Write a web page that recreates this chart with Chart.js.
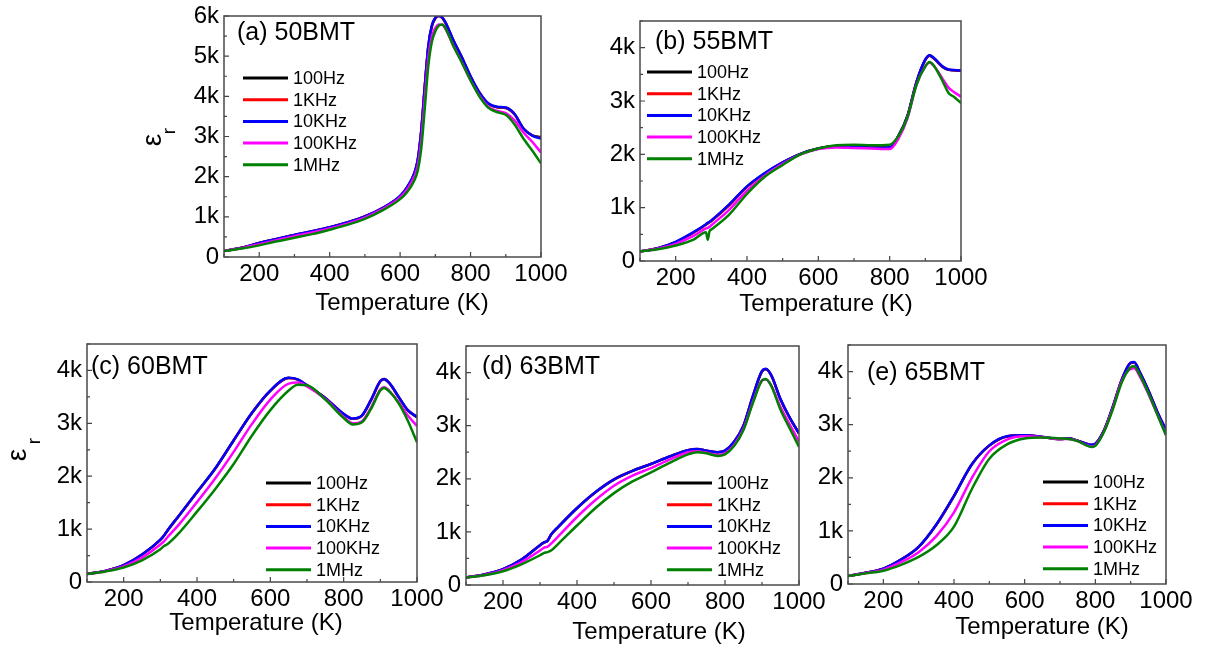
<!DOCTYPE html>
<html>
<head>
<meta charset="utf-8">
<script src="https://cdn.jsdelivr.net/npm/chart.js@4.4.1/dist/chart.umd.min.js"></script>
<style>
  html, body { margin: 0; padding: 0; background: #fff; width: 1205px; height: 647px; overflow: hidden; position: relative; }
  .panel { position: absolute; }
</style>
</head>
<body>
<script>
const freqLabels = ['100Hz', '1KHz', '10KHz', '100KHz', '1MHz'];
const lineColors = ['#000000', '#ff0000', '#0000ff', '#ff00ff', '#008000'];

// (a) 50BMT
const tempA = [100,150,200,250,300,350,400,450,500,550,600,620,640,650,660,670,680,690,700,710,720,730,750,775,800,825,850,875,900,925,950,975,1000];
const a_100Hz  = [150,228,348,448,548,638,738,858,1008,1218,1515,1735,2070,2400,3130,4230,5230,5740,5940,6000,5950,5810,5410,4970,4490,4090,3820,3730,3710,3550,3200,3030,2980];
const a_1KHz   = [150,229,349,449,549,639,739,859,1009,1219,1518,1738,2075,2410,3140,4240,5240,5750,5950,6005,5955,5815,5415,4975,4495,4095,3825,3735,3715,3555,3200,3025,2960];
const a_10KHz  = [150,230,350,450,550,640,740,860,1010,1220,1520,1740,2080,2420,3150,4250,5250,5760,5960,6010,5960,5820,5420,4980,4500,4100,3830,3740,3720,3560,3200,3020,2950];
const a_100KHz = [150,220,320,420,520,610,710,830,980,1190,1480,1680,1990,2280,2900,3950,4950,5480,5700,5790,5780,5660,5280,4850,4400,4020,3740,3640,3580,3400,3100,2870,2600];
const a_1MHz   = [150,210,290,390,480,570,680,800,950,1160,1440,1620,1900,2150,2700,3700,4750,5350,5620,5760,5790,5680,5280,4850,4400,4000,3720,3610,3540,3300,2950,2650,2330];

// (b) 55BMT
const tempB = [100,150,200,250,285,290,295,300,350,400,450,500,550,600,650,700,750,800,825,850,875,900,912,925,950,965,980,1000];
const b_100Hz  = [180,240,355,535,685,710,730,755,1050,1395,1645,1850,2010,2110,2150,2140,2130,2130,2350,2720,3350,3770,3850,3790,3630,3585,3575,3565];
const b_1KHz   = [180,238,352,530,680,705,725,750,1045,1390,1640,1845,2005,2108,2150,2140,2130,2130,2350,2720,3350,3775,3855,3795,3635,3588,3578,3568];
const b_10KHz  = [180,240,360,540,690,715,735,760,1060,1400,1650,1850,2010,2110,2150,2140,2130,2130,2350,2720,3350,3780,3860,3800,3640,3590,3580,3570];
const b_100KHz = [180,230,320,470,610,620,640,670,960,1320,1600,1820,2000,2100,2130,2120,2110,2100,2300,2680,3300,3650,3720,3650,3400,3250,3170,3080];
const b_1MHz   = [180,220,290,400,540,400,560,590,870,1260,1580,1800,2000,2110,2170,2180,2170,2180,2350,2700,3300,3650,3730,3650,3350,3150,3080,2960];

// (c) 60BMT
const tempC = [100,150,200,250,300,310,320,350,400,450,500,550,600,650,675,700,750,800,825,850,875,900,910,925,950,975,1000];
const c_100Hz  = [150,210,318,515,795,875,975,1245,1695,2145,2675,3195,3615,3855,3825,3715,3475,3175,3085,3145,3445,3795,3835,3755,3495,3245,3115];
const c_1KHz   = [150,210,319,518,798,878,978,1248,1698,2148,2678,3198,3618,3858,3828,3718,3478,3178,3088,3148,3448,3798,3838,3758,3498,3248,3118];
const c_10KHz  = [150,210,320,520,800,880,980,1250,1700,2150,2680,3200,3620,3860,3830,3720,3480,3180,3090,3150,3450,3800,3840,3760,3500,3250,3120];
const c_100KHz = [150,205,295,460,710,770,850,1080,1510,1960,2460,2990,3450,3750,3770,3700,3460,3120,3000,3040,3300,3640,3680,3610,3400,3150,2950];
const c_1MHz   = [150,200,275,410,620,680,720,920,1330,1760,2230,2770,3250,3620,3730,3720,3450,3100,2980,3020,3280,3620,3670,3600,3380,3050,2640];

// (d) 63BMT
const tempD = [100,150,200,250,300,310,320,330,350,400,450,500,550,600,650,700,725,750,780,800,825,850,875,900,910,925,950,975,1000];
const d_100Hz  = [140,200,298,478,748,798,828,948,1098,1445,1745,1985,2148,2278,2418,2538,2558,2528,2498,2528,2698,2998,3545,4020,4060,3945,3495,3145,2860];
const d_1KHz   = [140,200,299,479,749,799,829,949,1099,1448,1748,1988,2149,2279,2419,2539,2559,2529,2499,2529,2699,2999,3548,4025,4065,3948,3498,3148,2855];
const d_10KHz  = [140,200,300,480,750,800,830,950,1100,1450,1750,1990,2150,2280,2420,2540,2560,2530,2500,2530,2700,3000,3550,4030,4070,3950,3500,3150,2850];
const d_100KHz = [140,190,280,430,650,700,720,780,920,1280,1600,1870,2060,2200,2360,2500,2520,2490,2450,2480,2640,2940,3440,3850,3870,3760,3350,3020,2700];
const d_1MHz   = [140,185,260,390,560,600,620,650,780,1120,1450,1730,1950,2120,2300,2460,2500,2480,2430,2460,2620,2920,3420,3850,3880,3750,3300,2950,2600];

// (e) 65BMT
const tempE = [100,150,200,250,300,350,400,450,500,550,600,650,700,725,750,790,800,825,850,875,900,910,925,950,975,1000];
const e_100Hz  = [150,210,288,458,698,1115,1655,2245,2605,2778,2798,2768,2728,2738,2698,2618,2638,2898,3345,3845,4160,4170,3995,3645,3245,2890];
const e_1KHz   = [150,210,289,459,699,1118,1658,2248,2608,2779,2799,2769,2729,2739,2699,2619,2639,2899,3348,3848,4165,4175,3998,3648,3248,2895];
const e_10KHz  = [150,210,290,460,700,1120,1660,2250,2610,2780,2800,2770,2730,2740,2700,2620,2640,2900,3350,3850,4170,4180,4000,3650,3250,2900];
const e_100KHz = [150,205,270,410,600,900,1350,1990,2500,2720,2780,2765,2730,2730,2690,2590,2610,2880,3320,3820,4050,4060,3920,3580,3200,2820];
const e_1MHz   = [150,200,250,360,510,730,1080,1780,2360,2630,2740,2760,2740,2730,2690,2580,2600,2870,3300,3800,4080,4100,3950,3600,3200,2800];

// layout of each panel on the page (page pixels)
const panels = [
  { name: '(a) 50BMT', temps: tempA, series: [a_100Hz, a_1KHz, a_10KHz, a_100KHz, a_1MHz], yMax: 6000,
    box: { l: 224, r: 541, t: 16, b: 257 }, yw: 94, label: [237, 33], legend: [243, 78], xTitle: [402, 303],
    eps: [153, 140], epsR: [170, 131] },
  { name: '(b) 55BMT', temps: tempB, series: [b_100Hz, b_1KHz, b_10KHz, b_100KHz, b_1MHz], yMax: 4500,
    box: { l: 640, r: 961, t: 21, b: 261 }, yw: 60, label: [655, 42], legend: [647, 72], xTitle: [826, 304] },
  { name: '(c) 60BMT', temps: tempC, series: [c_100Hz, c_1KHz, c_10KHz, c_100KHz, c_1MHz], yMax: 4500,
    box: { l: 87, r: 417, t: 344, b: 582 }, yw: 87, label: [91, 367], legend: [266, 483], xTitle: [256, 623],
    eps: [18, 455], epsR: [35, 441] },
  { name: '(d) 63BMT', temps: tempD, series: [d_100Hz, d_1KHz, d_10KHz, d_100KHz, d_1MHz], yMax: 4500,
    box: { l: 466, r: 799, t: 346, b: 585 }, yw: 60, label: [482, 367], legend: [667, 483], xTitle: [659, 632] },
  { name: '(e) 65BMT', temps: tempE, series: [e_100Hz, e_1KHz, e_10KHz, e_100KHz, e_1MHz], yMax: 4500,
    box: { l: 848, r: 1166, t: 345, b: 584 }, yw: 60, label: [867, 373], legend: [1043, 482], xTitle: [1042, 627] }
];

const FONT = '"Liberation Sans", Arial, sans-serif';
const PAD_TOP = 25, PAD_RIGHT = 40, X_AXIS_H = 70;

function decorPlugin(p, ox, oy) {
  return {
    id: 'decor',
    afterDraw(chart) {
      const { ctx, chartArea: ca, scales: { x, y } } = chart;
      ctx.save();
      // inward tick marks
      ctx.strokeStyle = '#444';
      ctx.lineWidth = 1.2;
      ctx.beginPath();
      x.ticks.forEach(t => {
        const px = x.getPixelForValue(t.value);
        const len = t.value % 200 === 0 ? 5 : 3;
        ctx.moveTo(px, ca.bottom);
        ctx.lineTo(px, ca.bottom - len);
      });
      y.ticks.forEach(t => {
        const py = y.getPixelForValue(t.value);
        const len = t.value % 1000 === 0 ? 5 : 3;
        ctx.moveTo(ca.left, py);
        ctx.lineTo(ca.left + len, py);
      });
      ctx.stroke();
      // frame
      ctx.strokeStyle = '#4a4a4a';
      ctx.lineWidth = 1.5;
      ctx.strokeRect(ca.left, ca.top, ca.right - ca.left, ca.bottom - ca.top);

      ctx.fillStyle = '#000';
      // panel name
      ctx.font = '25px ' + FONT;
      ctx.textAlign = 'left';
      ctx.textBaseline = 'middle';
      ctx.fillText(p.name, p.label[0] - ox, p.label[1] - oy);
      // x title
      ctx.font = '24px ' + FONT;
      ctx.textAlign = 'center';
      ctx.fillText('Temperature (K)', p.xTitle[0] - ox, p.xTitle[1] - oy);
      // y title (epsilon r, rotated)
      if (p.eps) {
        ctx.save();
        ctx.translate(p.eps[0] - ox, p.eps[1] - oy);
        ctx.rotate(-Math.PI / 2);
        ctx.font = '28px ' + FONT;
        ctx.fillText('ε', 0, 0);
        ctx.restore();
        ctx.save();
        ctx.translate(p.epsR[0] - ox, p.epsR[1] - oy);
        ctx.rotate(-Math.PI / 2);
        ctx.font = '19px ' + FONT;
        ctx.fillText('r', 0, 0);
        ctx.restore();
      }
      // legend
      chart.data.datasets.forEach((ds, i) => {
        const lx = p.legend[0] - ox;
        const ly = p.legend[1] - oy + i * 21.7;
        ctx.strokeStyle = ds.borderColor;
        ctx.lineWidth = 3;
        ctx.beginPath();
        ctx.moveTo(lx, ly);
        ctx.lineTo(lx + 45, ly);
        ctx.stroke();
        ctx.font = '18px ' + FONT;
        ctx.textAlign = 'left';
        ctx.fillText(ds.label, lx + 50, ly + 1);
      });
      ctx.restore();
    }
  };
}

panels.forEach(p => {
  const cl = p.box.l - p.yw;
  const ct = p.box.t - PAD_TOP;
  const w = p.box.r - cl + PAD_RIGHT;
  const h = p.box.b - ct + X_AXIS_H;

  const div = document.createElement('div');
  div.className = 'panel';
  div.style.left = cl + 'px';
  div.style.top = ct + 'px';
  div.style.width = w + 'px';
  div.style.height = h + 'px';
  const cv = document.createElement('canvas');
  cv.width = w;
  cv.height = h;
  div.appendChild(cv);
  document.body.appendChild(div);

  new Chart(cv, {
    type: 'line',
    data: {
      datasets: p.series.map((vals, i) => ({
        label: freqLabels[i],
        data: vals.map((v, k) => ({ x: p.temps[k], y: v })),
        borderColor: lineColors[i],
        backgroundColor: lineColors[i],
        borderWidth: 2.5,
        pointRadius: 0,
        cubicInterpolationMode: 'monotone',
        order: freqLabels.length - i
      }))
    },
    options: {
      responsive: false,
      animation: false,
      devicePixelRatio: 1,
      layout: { padding: { left: 0, top: PAD_TOP, right: PAD_RIGHT, bottom: 0 } },
      plugins: { legend: { display: false }, tooltip: { enabled: false } },
      scales: {
        x: {
          type: 'linear', min: 100, max: 1000,
          grid: { display: false, drawTicks: false },
          border: { display: false },
          ticks: {
            stepSize: 100, autoSkip: false, maxRotation: 0, padding: 3,
            color: '#000', font: { family: FONT, size: 24 },
            callback: v => (v % 200 === 0 ? String(v) : '')
          },
          afterFit: s => { s.height = X_AXIS_H; }
        },
        y: {
          type: 'linear', min: 0, max: p.yMax,
          grid: { display: false, drawTicks: false },
          border: { display: false },
          ticks: {
            stepSize: 500, autoSkip: false, padding: 5,
            color: '#000', font: { family: FONT, size: 24 },
            callback: v => (v === 0 ? '0' : (v % 1000 === 0 ? (v / 1000) + 'k' : ''))
          },
          afterFit: s => { s.width = p.yw; }
        }
      }
    },
    plugins: [decorPlugin(p, cl, ct)]
  });
});
</script>
</body>
</html>
